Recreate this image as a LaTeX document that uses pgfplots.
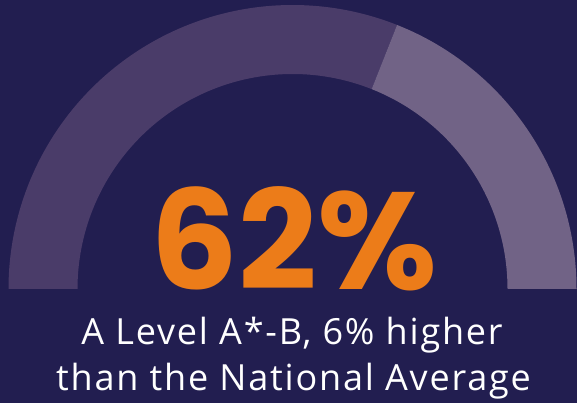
\documentclass[border=0pt]{standalone}
\usepackage{pgfplots}
\pgfplotsset{compat=1.18}
\usepackage{pgfplotstable}
\usepackage{fontspec}
\setmainfont{Open Sans}[LetterSpace=5]
\newfontfamily\bigfont{Poppins}
\definecolor{bg}{HTML}{221E50}
\definecolor{arcdark}{HTML}{4A3C69}
\definecolor{arclight}{HTML}{716386}
\definecolor{accent}{HTML}{EC7C19}
\pgfplotstableread{
part value
achieved 62
rest 38
}\gaugedata
\begin{document}
\begin{tikzpicture}
\pgfplotstablegetelem{0}{value}\of\gaugedata
\let\gval\pgfplotsretval
\pgfmathsetmacro{\splitang}{180-1.8*\gval}
\begin{axis}[x=1pt,y=1pt,xmin=0,xmax=577,ymin=0,ymax=403,hide axis,clip=false]
\fill[bg] (axis cs:0,0) rectangle (axis cs:577,403);
\fill[arcdark] (axis cs:8.5,114) arc[start angle=180,end angle=\splitang,radius=284pt]
  -- ([shift={(\splitang:215pt)}]axis cs:292.5,114) arc[start angle=\splitang,end angle=180,radius=215pt] -- cycle;
\fill[arclight] ([shift={(\splitang:284pt)}]axis cs:292.5,114) arc[start angle=\splitang,end angle=0,radius=284pt]
  -- (axis cs:507.5,114) arc[start angle=0,end angle=\splitang,radius=215pt] -- cycle;
\node[anchor=base,text=accent,inner sep=0pt,text depth=0pt] at (axis cs:294,113) {\bigfont\bfseries\fontsize{138}{138}\selectfont \gval\%};
\node[anchor=base,text=white,inner sep=0pt] at (axis cs:292,58) {\fontsize{36}{36}\selectfont A Level A*-B, 6\% higher};
\node[anchor=base,text=white,inner sep=0pt] at (axis cs:293.5,12) {\fontsize{36}{36}\selectfont than the National Average};
\end{axis}
\pgfresetboundingbox
\path (current axis.south west) rectangle (current axis.north east);
\end{tikzpicture}
\end{document}
